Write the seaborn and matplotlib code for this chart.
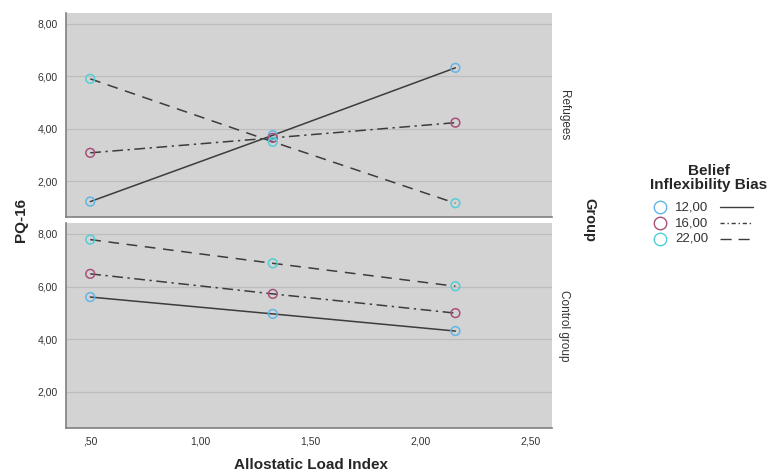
import matplotlib
matplotlib.use("Agg")
import matplotlib.pyplot as plt
from matplotlib.lines import Line2D
import pandas as pd
import seaborn as sns

groups = ["Refugees", "Control group"]
bias_levels = ["12,00", "16,00", "22,00"]
load_index = [0.50, 1.33, 2.16]

refugees_12 = [1.22, 3.75, 6.32]
refugees_16 = [3.08, 3.65, 4.23]
refugees_22 = [5.90, 3.50, 1.16]
control_12 = [5.60, 4.96, 4.31]
control_16 = [6.48, 5.72, 4.99]
control_22 = [7.78, 6.88, 6.01]

x_ticks = [0.5, 1.0, 1.5, 2.0, 2.5]
x_tick_labels = [",50", "1,00", "1,50", "2,00", "2,50"]
y_ticks = [2, 4, 6, 8]
y_tick_labels = ["2,00", "4,00", "6,00", "8,00"]

colors = {"12,00": "#62b6e6", "16,00": "#a8507a", "22,00": "#52cfd6"}
dashes = {"12,00": "", "16,00": (7, 3, 1.5, 3), "22,00": (7, 5)}
legend_dashes = {"12,00": None, "16,00": (3, 2, 1, 2), "22,00": (8, 5)}

series = {
    "Refugees": [refugees_12, refugees_16, refugees_22],
    "Control group": [control_12, control_16, control_22],
}
rows = []
for g in groups:
    for level, vals in zip(bias_levels, series[g]):
        for x, y in zip(load_index, vals):
            rows.append({"Group": g, "bias": level, "ali": x, "pq16": y})
df = pd.DataFrame(rows)

sns.set_theme(style="white")
plt.rcParams["font.family"] = ["Liberation Sans", "DejaVu Sans"]

fig = plt.figure(figsize=(7.68, 4.74), dpi=100)
ax_top = fig.add_axes([0.086, 0.542, 0.633, 0.430])
ax_bot = fig.add_axes([0.086, 0.097, 0.633, 0.432])

for ax, g in zip([ax_top, ax_bot], groups):
    sub = df[df["Group"] == g]
    ax.set_facecolor("#d3d3d3")
    for y in y_ticks:
        ax.axhline(y, color="#bdbdbd", lw=0.9, zorder=0)
    sns.lineplot(sub, x="ali", y="pq16", style="bias", dashes=dashes,
                 color="#3c3c3c", lw=1.1, legend=False, ax=ax)
    sns.scatterplot(sub, x="ali", y="pq16", hue="bias", palette=colors,
                    marker="o", s=40, linewidth=1.1, legend=False, ax=ax, zorder=3)
    # open circles: edge colour from the hue, no fill
    coll = ax.collections[-1]
    coll.set_edgecolors([colors[b] for b in sub["bias"]])
    coll.set_facecolors("none")
    ax.set_xlim(0.39, 2.6)
    ax.set_ylim(0.63, 8.4)
    ax.set_yticks(y_ticks)
    ax.set_yticklabels(y_tick_labels, fontsize=7.5, color="#333333")
    ax.set_xticks(x_ticks)
    ax.set_xlabel("")
    ax.set_ylabel("")
    ax.tick_params(length=0, pad=6)
    for side in ["top", "right"]:
        ax.spines[side].set_visible(False)
    for side in ["left", "bottom"]:
        ax.spines[side].set_color("#808080")
        ax.spines[side].set_linewidth(1.2)
    ax.text(1.025, 0.5, g, transform=ax.transAxes, rotation=-90,
            ha="center", va="center", fontsize=8.5, color="#333333")

ax_top.set_xticklabels([])
ax_bot.set_xticklabels(x_tick_labels, fontsize=7.5, color="#333333")

fig.text(0.027, 0.535, "PQ-16", rotation=90, ha="center", va="center",
         fontsize=11, fontweight="bold")
fig.text(0.405, 0.018, "Allostatic Load Index", ha="center", va="center",
         fontsize=11, fontweight="bold")
fig.text(0.767, 0.535, "Group", rotation=-90, ha="center", va="center",
         fontsize=10.5, fontweight="bold")

# legend drawn by hand: marker, label, then line sample (pixel coords from top)
W, H = 768, 474
fig.text(709 / W, 1 - 178 / H, "Belief\nInflexibility Bias", ha="center", va="center",
         fontsize=11, fontweight="bold", linespacing=1.0)
for i, level in enumerate(bias_levels):
    yy = 1 - (207 + 16 * i) / H
    fig.add_artist(Line2D([660 / W], [yy], marker="o", ls="none", markersize=9,
                          markerfacecolor="none", markeredgecolor=colors[level],
                          markeredgewidth=1.0, transform=fig.transFigure))
    fig.text(675 / W, yy, level, ha="left", va="center", fontsize=9.5, color="#333333")
    ln = Line2D([720 / W, 753 / W], [yy, yy], transform=fig.transFigure,
                color="#3c3c3c", lw=1.0)
    if legend_dashes[level]:
        ln.set_dashes(legend_dashes[level])
    fig.add_artist(ln)

fig.savefig("out.png", dpi=100)
